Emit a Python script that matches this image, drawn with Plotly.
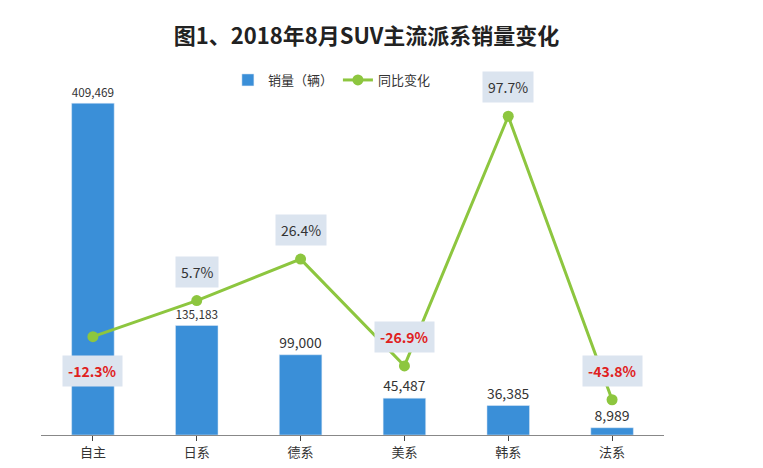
import plotly.graph_objects as go

cats = ["自主", "日系", "德系", "美系", "韩系", "法系"]
sales = [409469, 135183, 99000, 45487, 36385, 8989]
yoy = [-12.3, 5.7, 26.4, -26.9, 97.7, -43.8]
yoy_pos = ["below", "above", "above", "above", "above", "above"]

fig = go.Figure()
fig.add_bar(x=cats, y=sales, name="销量（辆）", marker_color="#3a8fd8", width=0.41,
            text=[f"{v:,}" for v in sales], textposition="outside",
            textfont=dict(size=14, color="#333"), cliponaxis=False)
fig.add_scatter(x=cats, y=yoy, name="同比变化", yaxis="y2", mode="lines+markers",
                line=dict(color="#8dc63f", width=3), marker=dict(size=11, color="#8dc63f"))
for c, v, p in zip(cats, yoy, yoy_pos):
    neg = v < 0
    fig.add_annotation(x=c, y=v, yref="y2", text=f"<b>{v}%</b>" if neg else f"{v}%",
                       showarrow=False, yshift=-34 if p == "below" else 29,
                       bgcolor="#dbe4ef", borderpad=5,
                       font=dict(size=14, color="#e02020" if neg else "#333"))
fig.update_layout(
    width=763, height=468, plot_bgcolor="white", paper_bgcolor="white",
    margin=dict(l=33, r=107, t=72, b=41),
    font=dict(family="Noto Sans CJK SC", color="#333"),
    title=dict(text="<b>图1、2018年8月SUV主流派系销量变化</b>", x=0.47, xanchor="center",
               y=0.955, font=dict(size=22, color="#222")),
    bargap=0.4,
    xaxis=dict(showline=True, linecolor="#888", ticks="outside", ticklen=5,
               tickfont=dict(size=13), showgrid=False),
    yaxis=dict(range=[0, 438100], visible=False),
    yaxis2=dict(range=[-61.4, 115.8], overlaying="y", visible=False),
    legend=dict(orientation="h", x=0.3, y=1.0, xanchor="left", yanchor="middle",
                font=dict(size=13)),
)
fig.write_html("out.html")
